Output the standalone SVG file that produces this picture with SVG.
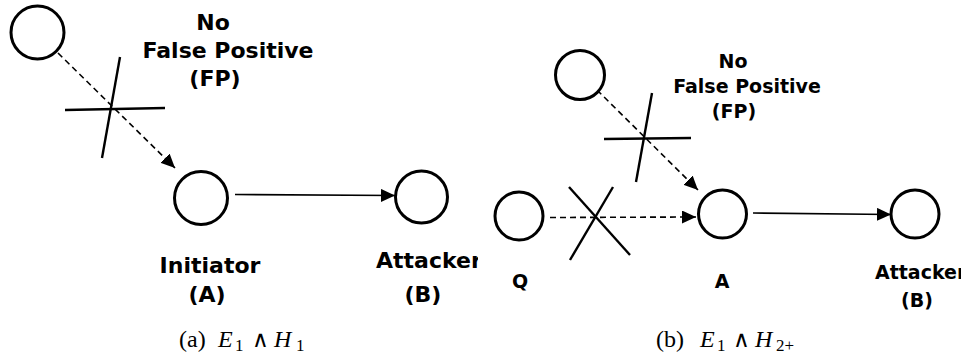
<svg xmlns="http://www.w3.org/2000/svg" width="967" height="360" viewBox="0 0 967 360">
<style>
.node{fill:#fff;stroke:#000;stroke-width:3}
.edge{fill:none;stroke:#000;stroke-width:1.6}
.dash{stroke-dasharray:6 4}
.cross{fill:none;stroke:#000;stroke-width:2.4}
.lbl{font-family:"DejaVu Sans",sans-serif;font-weight:bold;fill:#000;text-anchor:middle}
.cap{font-family:"Liberation Serif","DejaVu Serif",serif;font-size:24px;fill:#000}
.it{font-style:italic}
.sub{font-size:17px}
.wedge{font-family:"DejaVu Sans",sans-serif;font-size:23px;font-weight:normal}
</style>
<defs>
<marker id="arr" markerUnits="userSpaceOnUse" markerWidth="15" markerHeight="13" refX="14" refY="6.5" orient="auto">
<path d="M0,0 L14,6.5 L0,13 Z" fill="#000" stroke="none"/>
</marker>
<clipPath id="clipL"><rect x="0" y="0" width="478" height="360"/></clipPath>
<clipPath id="clipR"><rect x="0" y="0" width="961" height="360"/></clipPath>
</defs>

<g id="connectors">
<line class="edge dash" x1="58" y1="53" x2="175" y2="168" marker-end="url(#arr)"/>
<line class="edge" x1="235" y1="194.5" x2="395" y2="195.5" marker-end="url(#arr)"/>
<line class="cross" x1="120" y1="57" x2="102" y2="158"/>
<line class="cross" x1="65" y1="110" x2="165" y2="108"/>
<line class="edge dash" x1="597" y1="90" x2="698" y2="190" marker-end="url(#arr)"/>
<line class="cross" x1="652" y1="93" x2="636" y2="182"/>
<line class="cross" x1="604" y1="139" x2="691" y2="138"/>
<line class="edge dash" x1="550" y1="217.5" x2="696" y2="217" marker-end="url(#arr)"/>
<line class="cross" x1="569" y1="187" x2="630" y2="255"/>
<line class="cross" x1="613" y1="187" x2="570" y2="260"/>
<line class="edge" x1="753" y1="213" x2="891" y2="214.5" marker-end="url(#arr)"/>
</g>

<g id="fp-left">
<circle class="node" cx="37.5" cy="32.5" r="26.5"/>
<text class="lbl" font-size="22" x="213" y="30">No</text>
<text class="lbl" font-size="22" x="228" y="58">False Positive</text>
<text class="lbl" font-size="22" x="215" y="86">(FP)</text>
</g>
<g id="initiator-a">
<circle class="node" cx="201" cy="198" r="26.5"/>
<text class="lbl" font-size="22" x="210" y="273">Initiator</text>
<text class="lbl" font-size="22" x="207" y="302">(A)</text>
</g>
<g id="attacker-b-left">
<circle class="node" cx="421.5" cy="197" r="26"/>
<g clip-path="url(#clipL)">
<text class="lbl" font-size="22" x="376" y="268" style="text-anchor:start">Attacker</text>
</g>
<text class="lbl" font-size="22" x="423" y="302">(B)</text>
</g>
<text class="cap" y="347"><tspan x="179">(a)</tspan><tspan x="218" class="it">E</tspan><tspan x="235" y="351" class="sub">1</tspan><tspan x="252" y="347" class="wedge">∧</tspan><tspan x="274" y="347" class="it">H</tspan><tspan x="296" y="351" class="sub">1</tspan></text>

<g id="fp-right">
<circle class="node" cx="580" cy="75" r="24.5"/>
<text class="lbl" font-size="19" x="733" y="68">No</text>
<text class="lbl" font-size="19" x="747" y="93">False Positive</text>
<text class="lbl" font-size="19" x="734" y="118">(FP)</text>
</g>
<g id="q">
<circle class="node" cx="519" cy="216" r="24"/>
<text class="lbl" font-size="19" x="520" y="288">Q</text>
</g>
<g id="a">
<circle class="node" cx="722.5" cy="214" r="24"/>
<text class="lbl" font-size="19" x="722" y="288">A</text>
</g>
<g id="attacker-b-right">
<circle class="node" cx="915" cy="214" r="24"/>
<g clip-path="url(#clipR)">
<text class="lbl" font-size="19" x="875" y="279" style="text-anchor:start">Attacker</text>
</g>
<text class="lbl" font-size="19" x="917" y="307">(B)</text>
</g>
<text class="cap" y="347"><tspan x="656">(b)</tspan><tspan x="700" class="it">E</tspan><tspan x="717" y="351" class="sub">1</tspan><tspan x="733" y="347" class="wedge">∧</tspan><tspan x="755" y="347" class="it">H</tspan><tspan x="776" y="351" class="sub">2+</tspan></text>
</svg>
